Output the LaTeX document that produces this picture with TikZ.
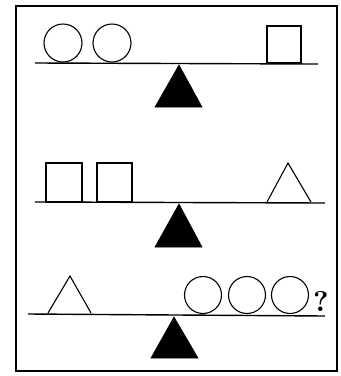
\documentclass[tikz,border=0pt]{standalone}
\begin{document}
\begin{tikzpicture}[x=1pt,y=-1pt,
  frame/.style={line width=2.6pt},
  beam/.style={line width=1.4pt},
  obj/.style={line width=1.1pt},
  fulcrum/.style={fill=black,draw=black,line width=0.6pt}]
\useasboundingbox (0,0) rectangle (341,376);
\draw[frame] (16,6) rectangle (337,371);
% row 1
\draw[beam] (35,63) -- (318,64);
\draw[obj] (63,43) circle (19);
\draw[obj] (112,43) circle (19);
\draw[obj] (267,26) rectangle (301,63);
\draw[fulcrum] (179,65) -- (202,107) -- (155,107) -- cycle;
% row 2
\draw[beam] (35,202) -- (325,203);
\draw[obj] (46,163) rectangle (82,202);
\draw[obj] (97,163) rectangle (132,202);
\draw[obj] (267,202) -- (288,163) -- (311,202);
\draw[fulcrum] (179,204) -- (202,247) -- (155,247) -- cycle;
% row 3
\draw[beam] (28,314) -- (325,316);
\draw[obj] (48,313) -- (70,276) -- (91,313);
\draw[obj] (203,295) circle (18.5);
\draw[obj] (247,295) circle (18.5);
\draw[obj] (290,295) circle (18.5);
\node[inner sep=0pt,anchor=base] (q) at (321,311) {\resizebox{!}{20pt}{\bfseries ?}};
\draw[fulcrum] (174,317) -- (198,358) -- (151,358) -- cycle;
\end{tikzpicture}
\end{document}
